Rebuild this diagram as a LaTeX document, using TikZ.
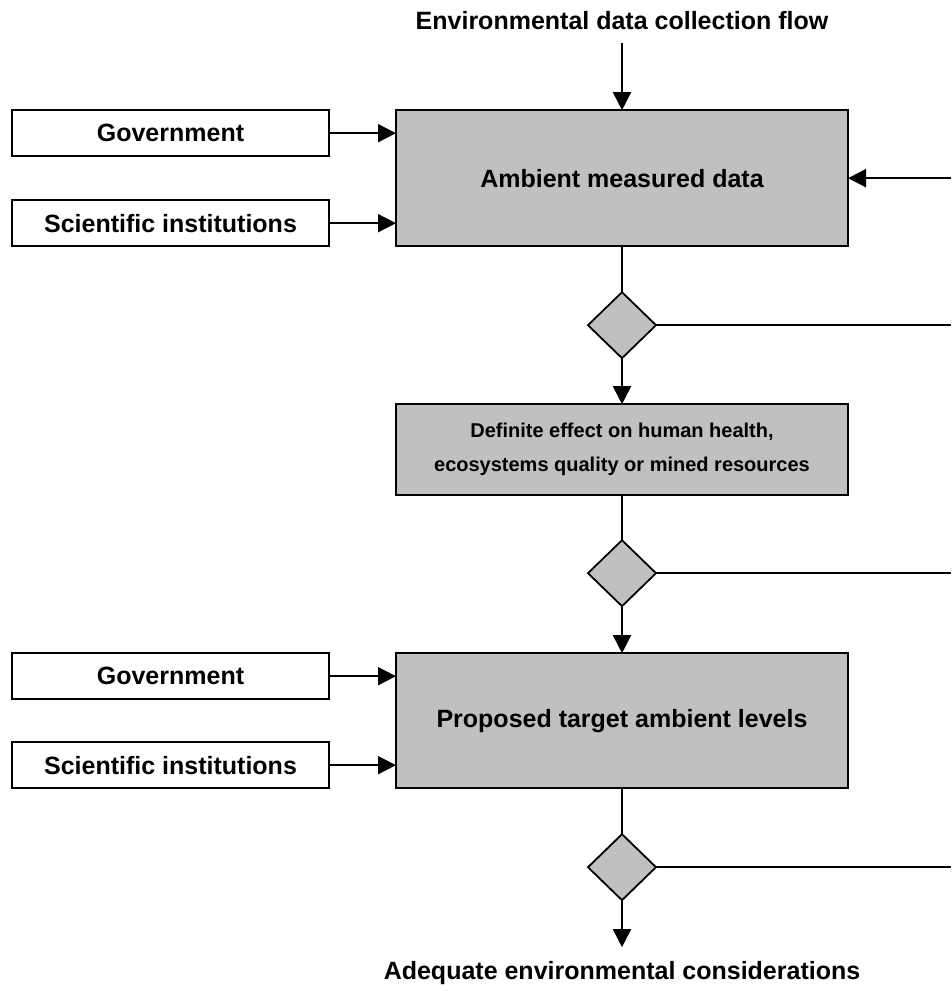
\documentclass[tikz,border=0pt]{standalone}
\usepackage{fontspec}
\setmainfont{Liberation Sans}
\usetikzlibrary{shapes.geometric, arrows.meta, positioning}
\definecolor{boxgray}{HTML}{C0C0C0}

\begin{document}
\begin{tikzpicture}[
    x=1pt, y=1pt,
    node distance=46pt,
    stage/.style={
        rectangle,
        draw=black,
        fill=boxgray,
        line width=1.8pt,
        outer sep=0pt,
        minimum width=452pt,
        align=center,
        font=\fontsize{25pt}{29pt}\selectfont\bfseries
    },
    source/.style={
        rectangle,
        draw=black,
        fill=white,
        line width=1.8pt,
        outer sep=0pt,
        minimum width=317pt,
        minimum height=46pt,
        font=\fontsize{25pt}{29pt}\selectfont\bfseries
    },
    check/.style={
        diamond,
        draw=black,
        fill=boxgray,
        line width=1.8pt,
        outer sep=0pt,
        inner sep=0pt,
        minimum width=68pt,
        minimum height=66pt
    },
    caption/.style={
        outer sep=0pt,
        font=\fontsize{25pt}{29pt}\selectfont\bfseries
    },
    arrow/.style={
        -{Triangle[length=18pt,width=18pt]},
        line width=1.8pt
    },
    link/.style={
        line width=1.8pt
    }
]
    \useasboundingbox (0,0) rectangle (951,-991);
    \coordinate (edge) at (951,0);

    \node [caption, inner ysep=13pt] (title) at (622,-21) {Environmental data collection flow};
    \node [stage, below=67pt of title, minimum height=136pt] (ambient) {Ambient measured data};
    \node [check, below=of ambient] (check1) {};
    \node [stage, below=of check1, minimum height=91pt, font=\fontsize{20pt}{34pt}\selectfont\bfseries] (effect) {Definite effect on human health,\\ ecosystems quality or mined resources};
    \node [check, below=45pt of effect] (check2) {};
    \node [stage, below=47pt of check2, minimum height=135pt] (target) {Proposed target ambient levels};
    \node [check, below=of target] (check3) {};
    \node [caption, below=47pt of check3, inner ysep=14pt] (result) {Adequate environmental considerations};

    \node [source, below left=0pt and 67pt of ambient.north west] (gov1) {Government};
    \node [source, above left=0pt and 67pt of ambient.south west] (sci1) {Scientific institutions};
    \node [source, below left=0pt and 67pt of target.north west] (gov2) {Government};
    \node [source, above left=0pt and 67pt of target.south west] (sci2) {Scientific institutions};

    \draw [arrow] (title) -- (ambient);
    \draw [arrow] (gov1) -- (gov1 -| ambient.west);
    \draw [arrow] (sci1) -- (sci1 -| ambient.west);
    \draw [arrow] (ambient.east -| edge) -- (ambient.east);
    \draw [link] (ambient) -- (check1);
    \draw [link] (check1.east) -- (check1.east -| edge);
    \draw [arrow] (check1) -- (effect);
    \draw [link] (effect) -- (check2);
    \draw [link] (check2.east) -- (check2.east -| edge);
    \draw [arrow] (check2) -- (target);
    \draw [arrow] (gov2) -- (gov2 -| target.west);
    \draw [arrow] (sci2) -- (sci2 -| target.west);
    \draw [link] (target) -- (check3);
    \draw [link] (check3.east) -- (check3.east -| edge);
    \draw [arrow] (check3) -- (result);
\end{tikzpicture}
\end{document}
